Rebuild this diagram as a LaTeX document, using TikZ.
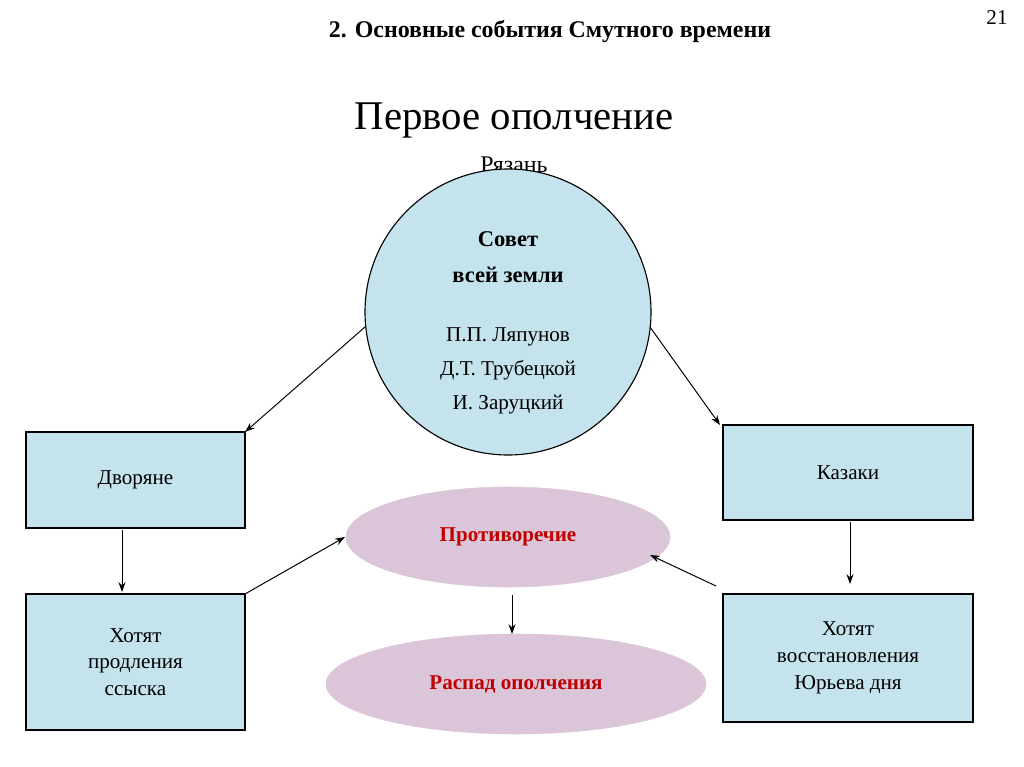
\documentclass[tikz,border=0pt]{standalone}
\usepackage{fontspec}
\setmainfont{Liberation Serif}
\usetikzlibrary{shapes.geometric,arrows.meta}
\definecolor{lb}{HTML}{C4E3EC}
\definecolor{lp}{HTML}{DBC5D8}
\definecolor{dred}{HTML}{C00000}
\tikzset{
 box/.style={draw,fill=lb,line width=0.8pt,align=center,font=\fontsize{15}{19}\selectfont},
 ell/.style={ellipse,fill=lp,draw=lp,font=\bfseries\fontsize{15}{18}\selectfont,text=dred},
 arr/.style={-{Stealth[length=7pt,width=5pt]},line width=0.7pt}
}
\begin{document}
\begin{tikzpicture}[x=0.025cm,y=-0.025cm]
\useasboundingbox (0,0) rectangle (1024,767);
\node (title) at (550,32) {\bfseries\fontsize{17}{20}\selectfont 2. Основные события Смутного времени};
\node (num) at (997,18) {\fontsize{15}{18}\selectfont 21};
\node (h1) at (514,120) {\fontsize{29}{34}\selectfont Первое ополчение};
\node (h2) at (514,165) {\fontsize{17}{20}\selectfont Рязань};
\node[circle,draw,fill=lb,line width=0.8pt,minimum size=286*0.025cm] (c) at (508,312) {};
\node[align=center,font=\bfseries\fontsize{16}{26}\selectfont] (ct1) at (508,257) {Совет\\всей земли};
\node[align=center,font=\fontsize{15}{24}\selectfont] (ct2) at (508,371) {П.П. Ляпунов\\Д.Т. Трубецкой\\И. Заруцкий};
\node[box,minimum width=219*0.025cm,minimum height=96*0.025cm] (d) at (135.5,480) {Дворяне};
\node[box,minimum width=250*0.025cm,minimum height=95*0.025cm] (k) at (848,472.5) {Казаки};
\node[box,minimum width=219*0.025cm,minimum height=136*0.025cm] (hl) at (135.5,662) {Хотят\\продления\\ссыска};
\node[box,minimum width=250*0.025cm,minimum height=128*0.025cm] (hr) at (848,658) {Хотят\\восстановления\\Юрьева дня};
\node[ell,minimum width=324*0.025cm,minimum height=100*0.025cm] (e1) at (508,537) {Противоречие};
\node[ell,minimum width=380*0.025cm,minimum height=100*0.025cm] (e2) at (516,684) {Распад ополчения};
\coordinate (cl) at (365,327); \coordinate (cr) at (650,327);
\coordinate (dt) at (245,432); \coordinate (kt) at (720,425);
\draw[arr] (cl) -- (dt);
\draw[arr] (cr) -- (kt);
\draw[arr] (122,530) -- (122,592);
\draw[arr] (850,522) -- (850,584);
\draw[arr] (245,594) -- (345,537);
\draw[arr] (716,586) -- (650,555);
\draw[arr] (512,595) -- (512,634);
\end{tikzpicture}
\end{document}
